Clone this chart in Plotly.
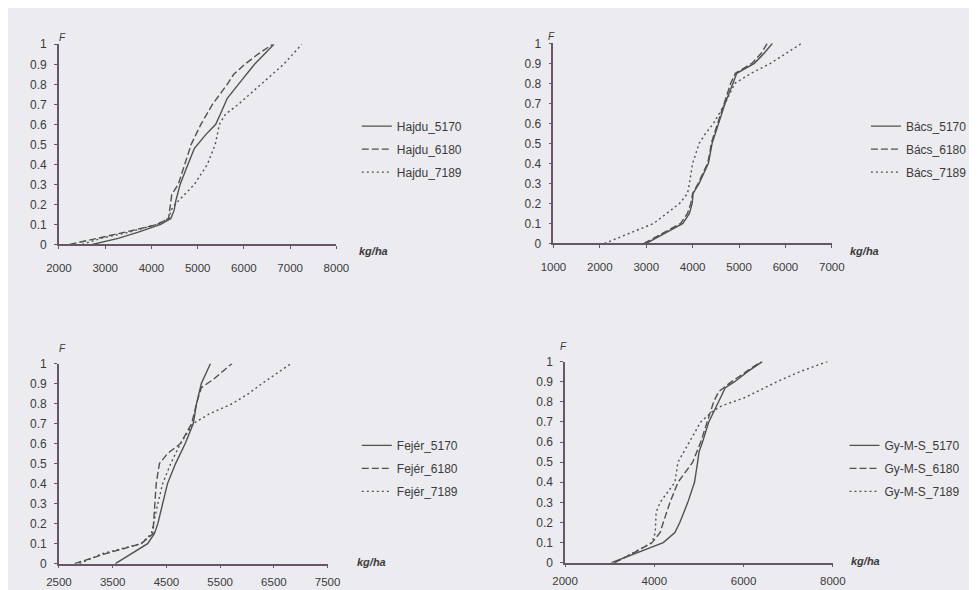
import plotly.graph_objects as go

W, H = 977, 590

# ---------------- data ----------------
# Panel 1 : Hajdu
hajdu_5170_x = [2720, 3280, 3700, 4200, 4420, 4490, 4530, 4620, 4790, 4930, 5180, 5390, 5490, 5640, 5880, 6230, 6650]
hajdu_5170_F = [0.0, 0.03, 0.06, 0.10, 0.13, 0.17, 0.22, 0.30, 0.40, 0.48, 0.55, 0.60, 0.65, 0.73, 0.80, 0.90, 1.0]
hajdu_6180_x = [2230, 2440, 2790, 3210, 3780, 4130, 4370, 4420, 4440, 4580, 4720, 4860, 5070, 5320, 5640, 5780, 6020, 6300, 6620]
hajdu_6180_F = [0.0, 0.01, 0.03, 0.05, 0.08, 0.10, 0.13, 0.20, 0.25, 0.30, 0.40, 0.50, 0.60, 0.70, 0.80, 0.85, 0.90, 0.95, 1.0]
hajdu_7189_x = [2500, 2900, 3500, 4100, 4380, 4420, 4510, 4720, 4930, 5210, 5380, 5470, 5600, 5880, 6370, 6860, 7250]
hajdu_7189_F = [0.0, 0.03, 0.06, 0.10, 0.13, 0.17, 0.20, 0.25, 0.30, 0.40, 0.50, 0.60, 0.65, 0.70, 0.80, 0.90, 1.0]

# Panel 2 : Bács
bacs_5170_x = [3000, 3400, 3790, 3930, 3990, 4010, 4140, 4340, 4385, 4420, 4560, 4700, 4870, 4950, 5330, 5540, 5720]
bacs_5170_F = [0.0, 0.05, 0.10, 0.15, 0.20, 0.25, 0.30, 0.40, 0.45, 0.50, 0.60, 0.70, 0.80, 0.85, 0.90, 0.95, 1.0]
bacs_6180_x = [2950, 3350, 3740, 3890, 3960, 4000, 4120, 4320, 4370, 4400, 4540, 4680, 4820, 4920, 5280, 5480, 5610]
bacs_6180_F = [0.0, 0.05, 0.10, 0.15, 0.20, 0.25, 0.30, 0.40, 0.45, 0.50, 0.60, 0.70, 0.80, 0.85, 0.90, 0.95, 1.0]
bacs_7189_x = [2100, 3160, 3720, 3890, 3930, 4000, 4140, 4280, 4450, 4700, 4910, 5260, 5680, 6030, 6350]
bacs_7189_F = [0.0, 0.10, 0.20, 0.25, 0.30, 0.40, 0.50, 0.55, 0.60, 0.70, 0.80, 0.85, 0.90, 0.95, 1.0]

# Panel 3 : Fejér
fejer_5170_x = [3550, 3850, 4150, 4275, 4340, 4430, 4520, 4670, 4850, 5000, 5060, 5150, 5320]
fejer_5170_F = [0.0, 0.05, 0.10, 0.15, 0.20, 0.30, 0.40, 0.50, 0.60, 0.70, 0.80, 0.90, 1.0]
fejer_6180_x = [2790, 3370, 4030, 4250, 4260, 4280, 4310, 4370, 4520, 4760, 4970, 5060, 5150, 5370, 5720]
fejer_6180_F = [0.0, 0.05, 0.10, 0.15, 0.20, 0.30, 0.40, 0.50, 0.55, 0.60, 0.70, 0.80, 0.88, 0.92, 1.0]
fejer_7189_x = [2880, 3300, 4030, 4220, 4340, 4430, 4580, 4760, 5000, 5310, 5730, 6030, 6280, 6820]
fejer_7189_F = [0.0, 0.05, 0.10, 0.15, 0.30, 0.40, 0.50, 0.60, 0.70, 0.75, 0.80, 0.85, 0.90, 1.0]

# Panel 4 : Gy-M-S
gyms_5170_x = [3040, 3620, 4200, 4460, 4570, 4750, 4900, 4970, 5000, 5080, 5220, 5440, 5590, 5800, 6090, 6420]
gyms_5170_F = [0.0, 0.05, 0.10, 0.15, 0.20, 0.30, 0.40, 0.50, 0.55, 0.60, 0.70, 0.80, 0.87, 0.90, 0.95, 1.0]
gyms_6180_x = [3110, 3550, 3950, 4130, 4200, 4350, 4530, 4860, 5040, 5190, 5330, 5440, 5730, 6060, 6390]
gyms_6180_F = [0.0, 0.05, 0.10, 0.15, 0.20, 0.30, 0.40, 0.50, 0.60, 0.70, 0.80, 0.85, 0.90, 0.95, 1.0]
gyms_7189_x = [3110, 3950, 4020, 4030, 4040, 4130, 4460, 4530, 4790, 5040, 5290, 5510, 6020, 6750, 7260, 7880]
gyms_7189_F = [0.0, 0.10, 0.15, 0.20, 0.25, 0.30, 0.40, 0.50, 0.60, 0.70, 0.75, 0.78, 0.82, 0.90, 0.95, 1.0]

y_ticks = [0, 0.1, 0.2, 0.3, 0.4, 0.5, 0.6, 0.7, 0.8, 0.9, 1]
y_tick_labels = ["0", "0.1", "0.2", "0.3", "0.4", "0.5", "0.6", "0.7", "0.8", "0.9", "1"]
x_ticks_1 = [2000, 3000, 4000, 5000, 6000, 7000, 8000]
x_ticks_2 = [1000, 2000, 3000, 4000, 5000, 6000, 7000]
x_ticks_3 = [2500, 3500, 4500, 5500, 6500, 7500]
x_ticks_4 = [2000, 4000, 6000, 8000]

# ---------------- styling ----------------
LINE_COL = "#505050"
AXIS_COL = "#66566a"
TXT_COL = "#3a3a3a"
BG = "#ececf0"
FONT = "Liberation Sans, Arial, sans-serif"
DASHES = {"5170": "solid", "6180": "7px,3px", "7189": "2px,3px"}

panels = [
    dict(xl=39, xr=324, yb=235, yt=30, rng=[2000, 8000], ticks=x_ticks_1, legend="legend", lx=345, ly=99,
         stand=9, series=[("Hajdu_5170", hajdu_5170_x, hajdu_5170_F), ("Hajdu_6180", hajdu_6180_x, hajdu_6180_F),
                          ("Hajdu_7189", hajdu_7189_x, hajdu_7189_F)], kg=(362, 242)),
    dict(xl=547, xr=833, yb=234, yt=29, rng=[1000, 7000], ticks=x_ticks_2, legend="legend2", lx=868, ly=99,
         stand=9, series=[("Bács_5170", bacs_5170_x, bacs_5170_F), ("Bács_6180", bacs_6180_x, bacs_6180_F),
                          ("Bács_7189", bacs_7189_x, bacs_7189_F)], kg=(884, 242)),
    dict(xl=39, xr=315, yb=562, yt=357, rng=[2500, 7500], ticks=x_ticks_3, legend="legend3", lx=345, ly=426,
         stand=4, series=[("Fejér_5170", fejer_5170_x, fejer_5170_F), ("Fejér_6180", fejer_6180_x, fejer_6180_F),
                          ("Fejér_7189", fejer_7189_x, fejer_7189_F)], kg=(360, 569)),
    dict(xl=559, xr=834, yb=561, yt=355, rng=[2000, 8000], ticks=x_ticks_4, legend="legend4", lx=846, ly=426,
         stand=4, series=[("Gy-M-S_5170", gyms_5170_x, gyms_5170_F), ("Gy-M-S_6180", gyms_6180_x, gyms_6180_F),
                          ("Gy-M-S_7189", gyms_7189_x, gyms_7189_F)], kg=(885, 567)),
]

fig = go.Figure()
layout = dict(
    width=W, height=H, margin=dict(l=0, r=0, t=0, b=0),
    paper_bgcolor=BG, plot_bgcolor=BG,
    font=dict(family=FONT, size=12, color=TXT_COL),
    showlegend=True, annotations=[],
)

for i, p in enumerate(panels, start=1):
    xa = "x" if i == 1 else f"x{i}"
    ya = "y" if i == 1 else f"y{i}"
    for j, (name, xs, fs) in enumerate(p["series"]):
        key = name.split("_")[-1]
        fig.add_trace(go.Scatter(
            x=xs, y=fs, mode="lines", name=name, xaxis=xa, yaxis=ya,
            line=dict(color=LINE_COL, width=1.4, dash=DASHES[key]),
            legend=p["legend"], legendgroup=f"{p['legend']}_{j}",
        ))
    common = dict(showgrid=False, zeroline=False, showline=True, linecolor=AXIS_COL, linewidth=1.5,
                  ticks="outside", ticklen=3, tickcolor=AXIS_COL, tickwidth=1)
    layout["xaxis" if i == 1 else f"xaxis{i}"] = dict(
        domain=[p["xl"] / W, p["xr"] / W], range=p["rng"], anchor=ya,
        tickvals=p["ticks"], ticktext=[str(t) for t in p["ticks"]], ticklabelstandoff=p["stand"],
        tickfont=dict(family=FONT, size=11.5, color=TXT_COL), **common)
    layout["yaxis" if i == 1 else f"yaxis{i}"] = dict(
        domain=[1 - p["yb"] / H, 1 - p["yt"] / H], range=[0, 1], anchor=xa,
        tickvals=y_ticks, ticktext=y_tick_labels, ticklabelstandoff=5,
        tickfont=dict(family=FONT, size=12, color=TXT_COL), **common)
    layout[p["legend"]] = dict(
        x=p["lx"] / W, y=1 - p["ly"] / H, xanchor="left", yanchor="top",
        bgcolor="rgba(0,0,0,0)", borderwidth=0, tracegroupgap=4,
        font=dict(family=FONT, size=12, color=TXT_COL),
    )
    layout["annotations"].append(dict(
        x=p["kg"][0] / W, y=1 - p["kg"][1] / H, xref="paper", yref="paper",
        text="<b><i>kg/ha</i></b>", showarrow=False, font=dict(family=FONT, size=11, color=TXT_COL)))
    layout["annotations"].append(dict(
        x=(p["xl"] - 2) / W, y=1 - (p["yt"] - 15) / H, xref="paper", yref="paper",
        text="<i>F</i>", showarrow=False, font=dict(family=FONT, size=10, color=TXT_COL)))

fig.update_layout(**layout)
fig.write_html("out.html")
